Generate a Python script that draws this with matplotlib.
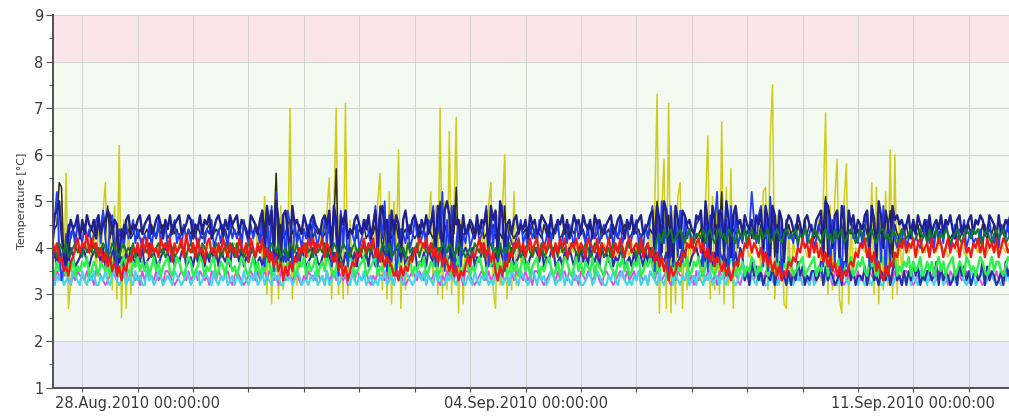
import numpy as np
import matplotlib
matplotlib.use('Agg')
import matplotlib.pyplot as plt
import matplotlib.dates as mdates
from matplotlib.ticker import MultipleLocator, FuncFormatter

# Hourly readings from 26.Aug.2010 11:00, one character per hour:
# '0'..'9' -> 2.0..2.9, 'a'..'z' -> 3.0..5.5, 'A'..'Z' -> 5.6..8.1 (steps of 0.1 degC)
CODES = '0123456789abcdefghijklmnopqrstuvwxyzABCDEFGHIJKLMNOPQRSTUVWXYZ'
start = np.datetime64('2010-08-26T11:00')

yellow = ("jkhpueA7dijkijlkjiqergsycpbt9G5q7rakijkj"
          "kjilkjkijlkjikjlkijkjlkjikjkljikjkilkjkl"
          "kjlkijklpjrhvas8qA9tbriO9pckjlkijkljkpgs"
          "z9sOar9PaqfkjlkijklpiuAbt9w8uhF7qbmijkjl"
          "kjlpwctaO9ubJarM6q8mfkjlkjiqetyb7rcsE9pb"
          "wcnhkjlkijkljkilkjlkjkijlkjkljikjlkjkijl"
          "kjlkijkljkilkjlkjkipgtR6rD7P6s8vy7qbnhkj"
          "lpcuI9vbwaL8xcB7qekjlkijklpewxbHT9rcq87p"
          "cmikjlkijkljqduNatbvD96uC8qfkjlkjqcyax8r"
          "bwcF9Eaqelkjlkijkljkilkjlkjkijlkjkljikjl"
          "kjlkijkljkilkjlkjkijlkjkljikjlkjkijlkjkl")

black = ("kopyxhninompnopmnonmposntmpgonmpnomnpmon"
         "nompnmonpomnpnomnpmonompnmnopmnonpmomnpn"
         "nompnmonpomnpsiqnAhpmnpqnompnomnpmonomnp"
         "noqBhpnrmonpmonpmnonpmthpnomnpmonompnmnp"
         "nompnmonuhpnmonxipmonpnmonpmnonpmonmtipn"
         "mnopnomnpmonmpnonmpomnpnmonpmnomnpomnpmo"
         "nompnmonpomnpnomnpmonouhpnmrinpmonmpnonm"
         "nompnmonpowhpnmonpmnonpmonmpnmontipnmonp"
         "nompnmonpomnpnovipnmonpmnonpmonmpnmsonpn"
         "nmosipnmonpmnonpmonmpnmonompnmnopmnonpmo"
         "nompnmonpomnpnomnpmonompnmnopmnonpmomnpn")

magenta = ("edfedefdcedfeedfdecffedcdefedfdefdfedecf"
           "dfeedfdecffedcdefedfdefdfedecfedfedefdce"
           "fedcdefedfdefdfedecfedfedefdcedfeedfdecf"
           "defdfedecfedfedefdcedfeedfdecffedcdefedf"
           "edfedefdcedfeedfdecffedcdefedfdefdfedecf"
           "dfeedfdecffedcdefedfdefdfedecfedfedefdce"
           "fedcdefedfdefdfedecfedfedefdcedfeedfdecf"
           "defdfedecfedfedefdcedfeedfdecffedcdefedf"
           "edfedefdcedfeedfdecffedcdefedfdefdfedecf"
           "dfeedfdecffedcdefedfdefdfedecfedfedefdce"
           "fedcdefedfdefdfedecfedfedefdcedfeedfdecf")

cyan = ("dcedfcdecfedcfdcedfccedfdcefdcdfcedcfdec"
        "cfdecdfecdedcfedcdfecdefcdfedcfdcedfcdec"
        "edcfdcedfcdfcedcfdeccfdecdfecddcedfcdecf"
        "cdefcdfedcfdcedfcdecdcedfcdecfedcfedcdfe"
        "dfcedcfdeccedfdcefdcedcfdcedfcdcedfcdecf"
        "edcfedcdfecfdecdfecddfcedcfdeccdefcdfedc"
        "cedfdcefdcdcedfcdecfedcfdcedfcfdcedfcdec"
        "fdcedfcdecedcfedcdfedfcedcfdeccfdecdfecd"
        "dcedfcdecfcdefcdfedccedfdcefdcedcfdcedfc"
        "cfdecdfecddfcedcfdecfdcedfcdecedcfedcdfe"
        "cdefcdfedcdcedfcdecfcedfdcefdcedcfdcedfc")

navy_low = ("hjgkihjgkighikjhgijkjhkgihjkghigjhkigjhk"
            "ghikjhgijkjhkgihjkghigjhkigjhkhjgkihjgki"
            "jhkgihjkghigjhkigjhkhjgkihjgkighikjhgijk"
            "igjhkigjhkhjgkihjgkighikjhgijkjhkgihjkgh"
            "hjgkihjgkighikjhgijkjhkgihjkghigjhkigjhk"
            "ghikjhgijkjhkgihjkghigjhkigjhkhjgkihjgki"
            "jhkgihjkghigjhkigjhkhjgkihjgkighikjhgijk"
            "igjhkigjhkhjgkihjgkidfchegdfceedgcfhdecf"
            "cfdhegcedffdehcgdfecdfchegdfceedgcfhdecf"
            "edgcfhdecfcfdhegcedffdehcgdfecdfchegdfce"
            "fdehcgdfecdfchegdfceedgcfhdecfcfdhegcedf")

green = ("gehfigehfiegfhgiefhgehgfiehgfehigfehgifh"
         "fhegifheghifegihfegihefgihegfhiefhgeihfg"
         "egihfegifhegfihegfhiefhgiefhgiehfgieghfi"
         "hfegihfegihefghiefghiegfhiegfhiefghiegfh"
         "giefhgiefhgifehgiefhiegfhigefhgiehfgiefh"
         "fhegifheghiegfhigefhegihfegifhehgfiehgfe"
         "higfehgifhefhgiefhgigehfigehfiegfhgiefhg"
         "ifegihfegihefgihegfhegfihegfhiehfgieghfi"
         "hefghiefghiegfhiegfhgiefhgiefhgifehgiefh"
         "iefghiegfhgiehfgiefhfhegifheghiefhgeihfg"
         "egihfegifhhfegihfegigehfigehfiiegfhigefh")

blue = ("lqwkdglpmokqnlpmoknqrlsmhqrlfonkpmnqlomk"
        "nlpkomqlnpkmoqlnkpmolqnkmplonqkmolpnkqmo"
        "mokqnlpmonlsgqhtfwokrhspgqlnkomplqnkomql"
        "rgtmesksgonlpkmoqnlptgsmufrhqekonlpkmqnl"
        "mokqptgsmwfqjtelqgnlpkmoqlnptgrkshqtfmnl"
        "kmoqlnkpmolqnkmplonqkmolpnkqmonlpkomqlnp"
        "nlpkomqlnpkmoqlnkpmqtfsgulsetgqishrmoknp"
        "qsgtfrmqwhskqetgsknlpkowqlrtgsfvmqhrekqm"
        "nlpkomqlnpkmorgtsfqhsketgrqmnlpkosgtqfrh"
        "teqgsmknlpkmoqnlkmoqlnkpmolqnkmplonqkmol"
        "mlokpnqmlokpnmqlokpnlmqokpnmlqkopnlmqkop")

navy = ("mrsunignqoprmqnrpoqmrnpqsrnqphomqrnpoqrn"
        "pqrnoqrpmqornpqrnoprqmpornqprmoqrpnqorpq"
        "rnqpomrqpnqsktpsjuqhrsoitpqonrpmqrponqrp"
        "sjtqhrpsmonqrpnqormpskrtoqhsnrpiqsonqrpm"
        "qornpsitqjsurhtpqkrnoqpmrnqpsjtqsiurkpqn"
        "qrnpoqmrpqnorqpmrnoqprnqmorpqnrpoqmrpqon"
        "pqrnoqrpmqornpqrnoprsitqjusirhtqksrpqonr"
        "qsjupitqhsrkuqirtpqnrpoqmrpsktqitrjsqhpr"
        "qonrpmqrponqrsjutqkrsitqhsprnqporsjtqiur"
        "kspjtqrpqoprmqnrpoqmrnpqornqpromqrnpoqrn"
        "qprqonrqpmrnoqprmqpornqrpoqmrnpqroqnprqo")

dark_green = ("jkilkjlijkljkiljkjlikjlkijlkjikljkjlikjl"
              "kjlijkljkijlkijkljikljkijlkjikjlkijlkjli"
              "ljkijlkjikjlkijlkjlijkilkjlijkljkiljkjli"
              "kjlkijlkjikljkjlikjljkilkjlijkljkiljkjli"
              "kljkjlikjlkjlkijlkjijkilkjlijkljkiljkjli"
              "jlkijkljikkjlijkljkiljkijlkjikjlkijlkjli"
              "jkilkjlijkljkiljkjlikjmnlomnolmnomlnomln"
              "nmolnomlnomnlonmlonmolnomnlomnolmnomlnon"
              "mnolnmonlmonmlnomnlomnolmnonlmonlmnomlno"
              "omnlonmlonmnolmnomnlomnolnmonlmnomlnonmo"
              "nolmnomlnomnolmnlonmolnmonlmnolmnonmlonm")

red = ("mjlhifgehikmjlknjmklikhjgifhegdgfihkjlim"
       "jmiljkimkljmhljkminkjlimjkhlmjkiljmkiljk"
       "imkjlhmkiljmikhjgifhdgehfihkjlimkmjlkmil"
       "kihjfhegdfhgjikmjlkmikhjgihgefdgegfihkjm"
       "lkmjlikhjgihfhegdfegigjikmjlikhjfdgehgji"
       "lkmjlikmjlmikljmkiljmkmijlkmjlkimlkjmilk"
       "jmkiljmkilmjkljmiklikhjgifhdgefhgjilkmjl"
       "mjlikhjgihfhegdfhgjilkmjlkikhjgifhegdfeh"
       "gihkjmklimjlikhjgifhegdfeghgjilkmikhjfhe"
       "dgehgjilkmjlkmilmjklimjkmlikmjlkmilmjkil"
       "kmjlimkljmikmljkimlkjmlikmjlkimjlkmijlmk")

# drawn back to front
series = [yellow, black, magenta, cyan, navy_low, green, blue, navy, dark_green, red]
series_colors = ['#cfcc1e', '#2e2a18', '#e048e8', '#3fd6ea', '#2c2ca6',
                 '#2cf04e', '#1f3cff', '#20208e', '#127a2a', '#f01818']
series_widths = [1.1, 1.1, 1.3, 1.5, 1.5, 1.7, 1.3, 1.7, 1.4, 1.6]

band_limits = [(1, 2), (2, 8), (8, 9)]
band_colors = ['#eaeaf9', '#f3faef', '#fce5e8']

labelled_days = ['2010-08-28', '2010-09-04', '2010-09-11']


def decode(s):
    return np.array([2.0 + CODES.index(c) * 0.1 for c in s])


fig = plt.figure(figsize=(10.09, 4.16), dpi=100)
ax = fig.add_axes([0.0528, 0.0685, 0.9472, 0.8954])

for (lo, hi), c in zip(band_limits, band_colors):
    ax.axhspan(lo, hi, color=c, zorder=0, lw=0)

for s, c, w in zip(series, series_colors, series_widths):
    assert len(s) == 440
    vals = decode(s)
    times = start + np.arange(len(vals)) * np.timedelta64(1, 'h')
    ax.plot(times, vals, color=c, lw=w, zorder=2)

ax.set_xlim(np.datetime64('2010-08-26T11:26'), np.datetime64('2010-09-12T17:27'))
ax.set_ylim(1, 9)

ax.xaxis.set_major_locator(mdates.DayLocator())


def day_label(v, pos):
    d = mdates.num2date(v)
    if d.strftime('%Y-%m-%d') in labelled_days:
        return d.strftime('%d.%b.%Y %H:%M:%S')
    return ''


ax.xaxis.set_major_formatter(FuncFormatter(day_label))
ax.yaxis.set_major_locator(MultipleLocator(1))
ax.yaxis.set_minor_locator(MultipleLocator(0.5))

ax.grid(True, which='major', color='#d2d2d2', lw=0.7, zorder=0.5)

for side in ['top', 'right']:
    ax.spines[side].set_visible(False)
for side in ['left', 'bottom']:
    ax.spines[side].set_color('#505050')
    ax.spines[side].set_linewidth(1.4)

ax.tick_params(axis='both', which='both', colors='#505050', labelcolor='#3a3a3a',
               direction='out', labelsize=10.5)
ax.tick_params(axis='x', length=3, pad=3)
ax.tick_params(axis='y', which='major', length=5, pad=2)
ax.tick_params(axis='y', which='minor', length=3)

ax.set_ylabel('Temperature [°C]', fontsize=8, color='#3a3a3a')
ax.yaxis.set_label_coords(-0.028, 0.5)

fig.savefig('out.png', dpi=100)
